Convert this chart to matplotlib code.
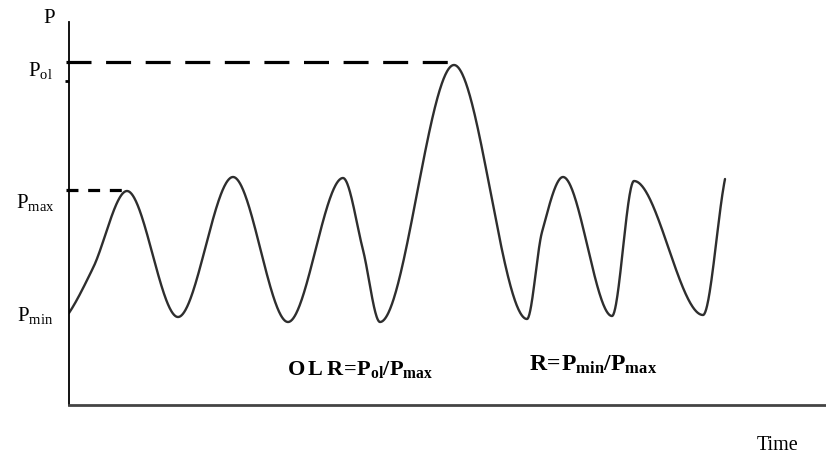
import numpy as np
import matplotlib
matplotlib.use("Agg")
import matplotlib.pyplot as plt

plt.rcParams['mathtext.fontset'] = 'custom'
plt.rcParams['mathtext.rm'] = 'Liberation Serif'
plt.rcParams['mathtext.bf'] = 'Liberation Serif:bold'
plt.rcParams['font.family'] = ['Liberation Serif', 'DejaVu Serif']
plt.rcParams['lines.scale_dashes'] = False

# Key points of the schematic pressure curve (time, pressure)
time_pts = [0.00, 0.24, 0.58, 1.09, 1.64, 2.19, 2.74, 2.94, 3.11, 3.85, 4.58, 4.73, 4.94, 5.43, 5.65, 6.34, 6.56]
p_pts    = [0.92, 1.37, 2.14, 0.88, 2.28, 0.83, 2.27, 1.55, 0.83, 3.40, 0.86, 1.73, 2.28, 0.89, 2.24, 0.90, 2.26]

P_ol = 3.43
P_max = 2.15
P_min = 0.92
t_peak_ol = 3.88
t_peak_max = 0.56


def pchip(x, y, xn):
    x = np.asarray(x, float); y = np.asarray(y, float)
    h = np.diff(x); d = np.diff(y) / h
    n = len(x)
    m = np.zeros(n)
    for k in range(1, n - 1):
        if d[k - 1] * d[k] <= 0:
            m[k] = 0.0
        else:
            w1 = 2 * h[k] + h[k - 1]; w2 = h[k] + 2 * h[k - 1]
            m[k] = (w1 + w2) / (w1 / d[k - 1] + w2 / d[k])
    m[0] = d[0] * 0.8
    m[-1] = d[-1] * 0.8
    idx = np.clip(np.searchsorted(x, xn) - 1, 0, n - 2)
    t = (xn - x[idx]) / h[idx]
    h00 = 2 * t**3 - 3 * t**2 + 1; h10 = t**3 - 2 * t**2 + t
    h01 = -2 * t**3 + 3 * t**2; h11 = t**3 - t**2
    return h00 * y[idx] + h10 * h[idx] * m[idx] + h01 * y[idx + 1] + h11 * h[idx] * m[idx + 1]


W, H = 826, 455
fig = plt.figure(figsize=(W / 100, H / 100), dpi=100)
ax = fig.add_axes([69 / W, 50 / H, (W - 69) / W, (405 - 22) / H])
ax.set_xlim(0, 7.57)
ax.set_ylim(0, 3.83)

tt = np.linspace(time_pts[0], time_pts[-1], 1500)
ax.plot(tt, pchip(time_pts, p_pts, tt), color='#2e2e2e', lw=1.7, solid_capstyle='round')

# dashed reference lines
ax.plot([-0.03, t_peak_ol], [P_ol, P_ol], color='black', lw=2.3, dashes=(18, 10.5), clip_on=False)
ax.plot([-0.03, t_peak_max], [P_max, P_max], color='black', lw=2.3, dashes=(8.6, 7.0), clip_on=False)

for s in ['top', 'right']:
    ax.spines[s].set_visible(False)
ax.spines['left'].set_linewidth(1.3)
ax.spines['bottom'].set_linewidth(2.0)
ax.spines['bottom'].set_color('#444444')
ax.set_xticks([])
ax.set_yticks([3.24])
ax.set_yticklabels([])
ax.tick_params(axis='y', length=3, width=2, direction='out')

fs = 15
ax.text(-0.20, 3.87, 'P', fontsize=fs, ha='center', va='center')
ax.text(-0.16, P_ol - 0.08, r'$\mathrm{P_{ol}}$', fontsize=fs, ha='right', va='center')
ax.text(-0.14, P_max - 0.12, r'$\mathrm{P_{max}}$', fontsize=fs, ha='right', va='center')
ax.text(-0.16, P_min - 0.02, r'$\mathrm{P_{min}}$', fontsize=fs, ha='right', va='center')

ax.text(2.91, 0.36, r'$\mathbf{O\,L\,R\!=\!P_{ol}/P_{max}}$', fontsize=16, ha='center', va='center')
ax.text(5.24, 0.40, r'$\mathbf{R\!=\!P_{min}/P_{max}}$', fontsize=17, ha='center', va='center')
ax.text(7.09, -0.41, 'Time', fontsize=14.5, ha='center', va='center', clip_on=False)

fig.savefig('out.png', dpi=100)
